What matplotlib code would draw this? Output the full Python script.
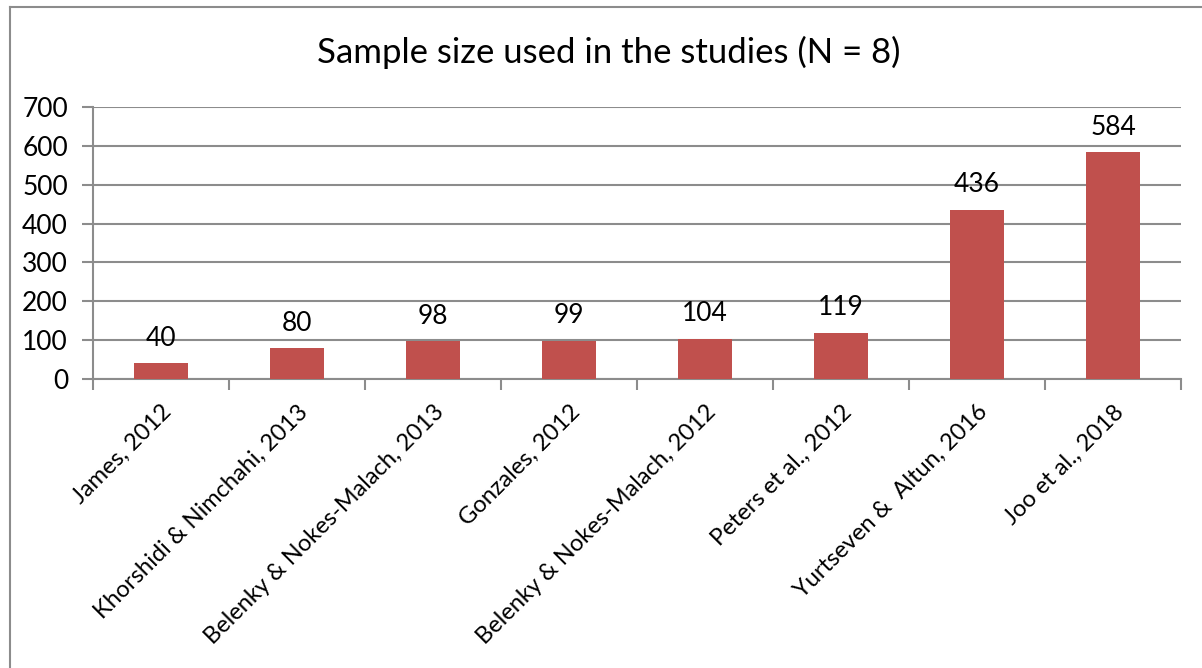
import matplotlib.pyplot as plt
import numpy as np
from matplotlib.lines import Line2D

# data
studies = [
    "James, 2012",
    "Khorshidi & Nimchahi, 2013",
    "Belenky & Nokes-Malach, 2013",
    "Gonzales, 2012",
    "Belenky & Nokes-Malach, 2012",
    "Peters et al., 2012",
    "Yurtseven &  Altun, 2016",
    "Joo et al., 2018",
]
sample_sizes = [40, 80, 98, 99, 104, 119, 436, 584]
y_ticks = [0, 100, 200, 300, 400, 500, 600, 700]

bar_color = "#C0504D"
grid_color = "#8C8C8C"
plt.rcParams["font.family"] = ["Lato", "DejaVu Sans"]

fig = plt.figure(figsize=(12.02, 6.68), dpi=100)
ax = fig.add_axes([93 / 1202, 1 - 379 / 668, (1181 - 93) / 1202, (379 - 107) / 668])

x = np.arange(len(studies))
bars = ax.bar(x, sample_sizes, width=0.4, color=bar_color, zorder=3)
for b, v in zip(bars, sample_sizes):
    ax.text(b.get_x() + b.get_width() / 2, v + 64, str(v),
            ha="center", va="center", fontsize=19, color="black")

ax.set_xlim(-0.5, len(studies) - 0.5)
ax.set_ylim(0, 700)
ax.set_yticks(y_ticks)
ax.yaxis.grid(True, color=grid_color, linewidth=1.5, zorder=0)
ax.tick_params(axis="y", length=8, width=1.5, color=grid_color, labelsize=19, pad=10)

# category labels at centres, tick marks at boundaries
ax.set_xticks(x)
ax.set_xticklabels(studies, rotation=45, ha="right", rotation_mode="anchor", fontsize=17)
ax.tick_params(axis="x", which="major", length=0, pad=16)
ax.set_xticks(np.arange(-0.5, len(studies)), minor=True)
ax.tick_params(axis="x", which="minor", length=8, width=1.5, color=grid_color)

for side in ["top", "right"]:
    ax.spines[side].set_visible(False)
for side in ["left", "bottom"]:
    ax.spines[side].set_color(grid_color)
    ax.spines[side].set_linewidth(1.5)

fig.text(609 / 1202, 1 - 52 / 668, "Sample size used in the studies (N = 8)",
         ha="center", va="center", fontsize=25)

# chart-area frame (top and left edges only are visible)
fig.add_artist(Line2D([10 / 1202, 1], [1 - 7 / 668, 1 - 7 / 668], color=grid_color, linewidth=1.5))
fig.add_artist(Line2D([10 / 1202, 10 / 1202], [0, 1 - 7 / 668], color=grid_color, linewidth=1.5))

fig.savefig("out.png", dpi=100)
